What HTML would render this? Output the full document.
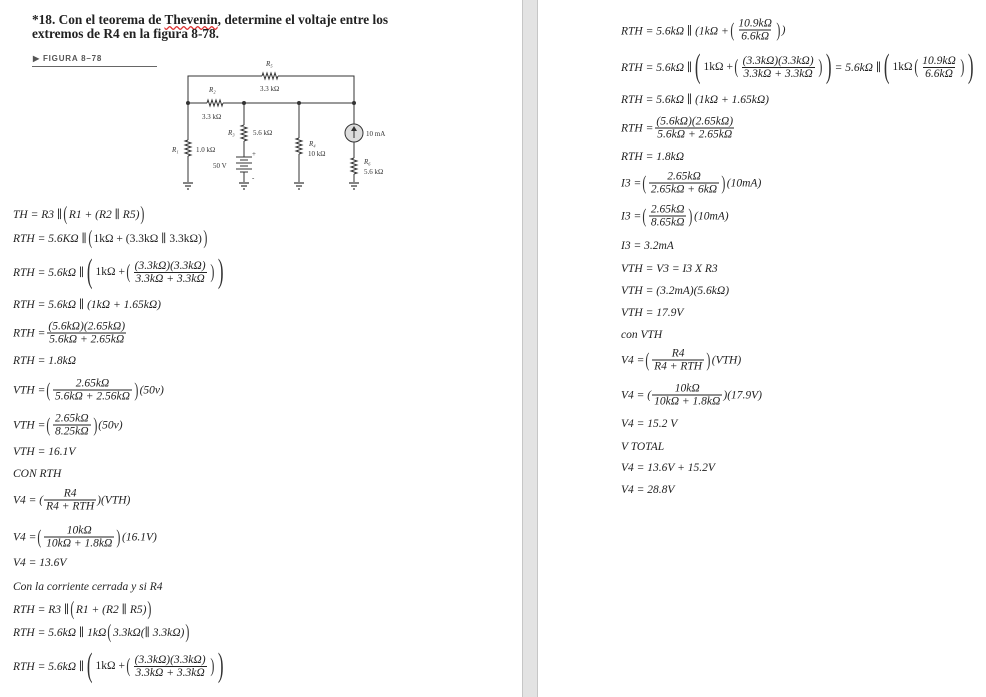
<!DOCTYPE html>
<html><head><meta charset="utf-8"><style>
body{margin:0;width:986px;height:697px;background:#fff;position:relative;overflow:hidden;font-family:"Liberation Serif","DejaVu Serif",serif;color:#222;}
.l{position:absolute;font-size:11.5px;font-style:italic;white-space:nowrap;display:flex;align-items:center;transform:translateY(-50%);}
.n{font-style:normal}
.f{display:inline-flex;flex-direction:column;align-items:center;margin:0 1px;vertical-align:middle;}
.f>span{padding:0 2px;line-height:12px}
.f>span+span{border-top:1px solid #222}
.p{font-style:normal;font-size:20px;line-height:20px;transform:scaleX(.6);display:inline-block;color:#333;font-weight:100}
.pb{font-size:34px;line-height:34px;transform:scaleX(.5)}
</style></head><body>
<div style="position:absolute;left:522px;top:0;width:14px;height:697px;background:#e3e3e3;border-left:1px solid #c6c6c6;border-right:1px solid #c6c6c6"></div>

<div style="position:absolute;left:32px;top:13px;font-size:13.3px;font-weight:bold;line-height:14px;color:#222">*18. Con el teorema de <span style="text-decoration:underline wavy #d33">Thevenin</span>, determine el voltaje entre los<br>extremos de R4 en la figura 8-78.</div>
<div style="position:absolute;left:33px;top:54px;font-family:'Liberation Sans',sans-serif;font-size:8px;font-weight:bold;letter-spacing:.8px;color:#555">▶ FIGURA 8–78</div>
<div style="position:absolute;left:32px;top:66px;width:125px;height:1px;background:#666"></div>

<svg style="position:absolute;left:0;top:0" width="420" height="200" font-family="Liberation Serif" font-size="7" fill="#333">
<g stroke="#333" stroke-width="1" fill="none">
<polyline points="188,103 188,76 262,76"/><polyline points="278,76 354,76 354,124"/>
<polyline points="262,76 263,73 265,79 267,73 269,79 271,73 273,79 275,73 277,79 278,76"/>
<line x1="188" y1="103" x2="207" y2="103"/><line x1="223" y1="103" x2="354" y2="103"/>
<polyline points="207,103 208,100 210,106 212,100 214,106 216,100 218,106 220,100 222,106 223,103"/>
<line x1="188" y1="103" x2="188" y2="140"/><polyline points="188,140 185,141 191,143 185,145 191,147 185,149 191,151 185,153 191,155 188,156"/><line x1="188" y1="156" x2="188" y2="182"/>
<line x1="244" y1="103" x2="244" y2="125"/><polyline points="244,125 241,126 247,128 241,130 247,132 241,134 247,136 241,138 247,140 244,141"/><line x1="244" y1="141" x2="244" y2="157"/>
<line x1="236" y1="157" x2="252" y2="157"/><line x1="240" y1="160" x2="248" y2="160"/><line x1="236" y1="163" x2="252" y2="163"/><line x1="240" y1="166" x2="248" y2="166"/><line x1="236" y1="169" x2="252" y2="169"/><line x1="240" y1="172" x2="248" y2="172"/>
<line x1="244" y1="172" x2="244" y2="182"/>
<line x1="299" y1="103" x2="299" y2="138"/><polyline points="299,138 296,139 302,141 296,143 302,145 296,147 302,149 296,151 302,153 299,154"/><line x1="299" y1="154" x2="299" y2="182"/>
<circle cx="354" cy="133" r="9" fill="#ddd"/><line x1="354" y1="138" x2="354" y2="128"/>
<line x1="354" y1="142" x2="354" y2="158"/><polyline points="354,158 351,159 357,161 351,163 357,165 351,167 357,169 351,171 357,173 354,174"/><line x1="354" y1="174" x2="354" y2="182"/>
</g>
<polygon points="354,126 351,131 357,131" fill="#333"/>
<g fill="#333"><circle cx="188" cy="103" r="2"/><circle cx="244" cy="103" r="2"/><circle cx="299" cy="103" r="2"/><circle cx="354" cy="103" r="2"/></g>
<g stroke="#333" stroke-width="1.2">
<line x1="183" y1="183" x2="193" y2="183"/><line x1="185" y1="186" x2="191" y2="186"/><line x1="187" y1="189" x2="189" y2="189"/>
<line x1="239" y1="183" x2="249" y2="183"/><line x1="241" y1="186" x2="247" y2="186"/><line x1="243" y1="189" x2="245" y2="189"/>
<line x1="294" y1="183" x2="304" y2="183"/><line x1="296" y1="186" x2="302" y2="186"/><line x1="298" y1="189" x2="300" y2="189"/>
<line x1="349" y1="183" x2="359" y2="183"/><line x1="351" y1="186" x2="357" y2="186"/><line x1="353" y1="189" x2="355" y2="189"/>
</g>
<text x="266" y="66" font-style="italic">R₅</text><text x="260" y="91">3.3 kΩ</text>
<text x="209" y="92" font-style="italic">R₂</text><text x="202" y="119">3.3 kΩ</text>
<text x="172" y="152" font-style="italic">R₁</text><text x="196" y="152">1.0 kΩ</text>
<text x="228" y="135" font-style="italic">R₃</text><text x="253" y="135">5.6 kΩ</text>
<text x="252" y="156">+</text><text x="213" y="168">50 V</text><text x="252" y="180">-</text>
<text x="309" y="146" font-style="italic">R₄</text><text x="308" y="156">10 kΩ</text>
<text x="366" y="136">10 mA</text>
<text x="364" y="164" font-style="italic">R₆</text><text x="364" y="174">5.6 kΩ</text>
</svg>

<!-- left column -->
<div class="l" style="left:13px;top:214px">TH = R3 ∥ <span class="p">(</span>R1 + (R2 ∥ R5)<span class="p">)</span></div>
<div class="l" style="left:13px;top:238px">RTH = 5.6KΩ ∥ <span class="p">(</span><span class="n">1kΩ + (3.3kΩ ∥ 3.3kΩ)</span><span class="p">)</span></div>
<div class="l" style="left:13px;top:272px">RTH = 5.6kΩ ∥ <span class="p pb">(</span><span class="n">1kΩ +</span><span class="p">(</span><span class="f"><span>(3.3kΩ)(3.3kΩ)</span><span>3.3kΩ + 3.3kΩ</span></span><span class="p">)</span><span class="p pb">)</span></div>
<div class="l" style="left:13px;top:304px">RTH = 5.6kΩ ∥ (1kΩ + 1.65kΩ)</div>
<div class="l" style="left:13px;top:333px">RTH =<span class="f"><span>(5.6kΩ)(2.65kΩ)</span><span>5.6kΩ + 2.65kΩ</span></span></div>
<div class="l" style="left:13px;top:361px">RTH = 1.8kΩ</div>
<div class="l" style="left:13px;top:390px">VTH = <span class="p">(</span><span class="f"><span>2.65kΩ</span><span>5.6kΩ + 2.56kΩ</span></span><span class="p">)</span> (50v)</div>
<div class="l" style="left:13px;top:425px">VTH = <span class="p">(</span><span class="f"><span>2.65kΩ</span><span>8.25kΩ</span></span><span class="p">)</span> (50v)</div>
<div class="l" style="left:13px;top:452px">VTH = 16.1V</div>
<div class="l" style="left:13px;top:474px">CON RTH</div>
<div class="l" style="left:13px;top:500px">V4 = (<span class="f"><span>R4</span><span>R4 + RTH</span></span>)(VTH)</div>
<div class="l" style="left:13px;top:537px">V4 = <span class="p">(</span><span class="f"><span>10kΩ</span><span>10kΩ + 1.8kΩ</span></span><span class="p">)</span> (16.1V)</div>
<div class="l" style="left:13px;top:563px">V4 = 13.6V</div>
<div class="l" style="left:13px;top:587px">Con la corriente cerrada y si R4</div>
<div class="l" style="left:13px;top:609px">RTH = R3 ∥ <span class="p">(</span>R1 + (R2 ∥ R5)<span class="p">)</span></div>
<div class="l" style="left:13px;top:632px">RTH = 5.6kΩ ∥ 1kΩ<span class="p">(</span>3.3kΩ(∥ 3.3kΩ)<span class="p">)</span></div>
<div class="l" style="left:13px;top:666px">RTH = 5.6kΩ ∥ <span class="p pb">(</span><span class="n">1kΩ +</span><span class="p">(</span><span class="f"><span>(3.3kΩ)(3.3kΩ)</span><span>3.3kΩ + 3.3kΩ</span></span><span class="p">)</span><span class="p pb">)</span></div>

<!-- right column -->
<div class="l" style="left:621px;top:30px">RTH = 5.6kΩ ∥ (1kΩ + <span class="p">(</span><span class="f"><span>10.9kΩ</span><span>6.6kΩ</span></span><span class="p">)</span>)</div>
<div class="l" style="left:621px;top:67px">RTH = 5.6kΩ ∥ <span class="p pb">(</span><span class="n">1kΩ +</span><span class="p">(</span><span class="f"><span>(3.3kΩ)(3.3kΩ)</span><span>3.3kΩ + 3.3kΩ</span></span><span class="p">)</span><span class="p pb">)</span>= 5.6kΩ ∥ <span class="p pb">(</span><span class="n">1kΩ</span><span class="p">(</span><span class="f"><span>10.9kΩ</span><span>6.6kΩ</span></span><span class="p">)</span><span class="p pb">)</span></div>
<div class="l" style="left:621px;top:99px">RTH = 5.6kΩ ∥ (1kΩ + 1.65kΩ)</div>
<div class="l" style="left:621px;top:128px">RTH =<span class="f"><span>(5.6kΩ)(2.65kΩ)</span><span>5.6kΩ + 2.65kΩ</span></span></div>
<div class="l" style="left:621px;top:157px">RTH = 1.8kΩ</div>
<div class="l" style="left:621px;top:183px">I3 = <span class="p">(</span><span class="f"><span>2.65kΩ</span><span>2.65kΩ + 6kΩ</span></span><span class="p">)</span>(10mA)</div>
<div class="l" style="left:621px;top:216px">I3 = <span class="p">(</span><span class="f"><span>2.65kΩ</span><span>8.65kΩ</span></span><span class="p">)</span>(10mA)</div>
<div class="l" style="left:621px;top:246px">I3 = 3.2mA</div>
<div class="l" style="left:621px;top:269px">VTH = V3 = I3 X R3</div>
<div class="l" style="left:621px;top:291px">VTH = (3.2mA)(5.6kΩ)</div>
<div class="l" style="left:621px;top:313px">VTH = 17.9V</div>
<div class="l" style="left:621px;top:335px">con VTH</div>
<div class="l" style="left:621px;top:360px">V4 = <span class="p">(</span><span class="f"><span>R4</span><span>R4 + RTH</span></span><span class="p">)</span>(VTH)</div>
<div class="l" style="left:621px;top:395px">V4 = (<span class="f"><span>10kΩ</span><span>10kΩ + 1.8kΩ</span></span>)(17.9V)</div>
<div class="l" style="left:621px;top:424px">V4 = 15.2 V</div>
<div class="l" style="left:621px;top:447px">V TOTAL</div>
<div class="l" style="left:621px;top:468px">V4 = 13.6V + 15.2V</div>
<div class="l" style="left:621px;top:490px">V4 = 28.8V</div>
</body></html>
